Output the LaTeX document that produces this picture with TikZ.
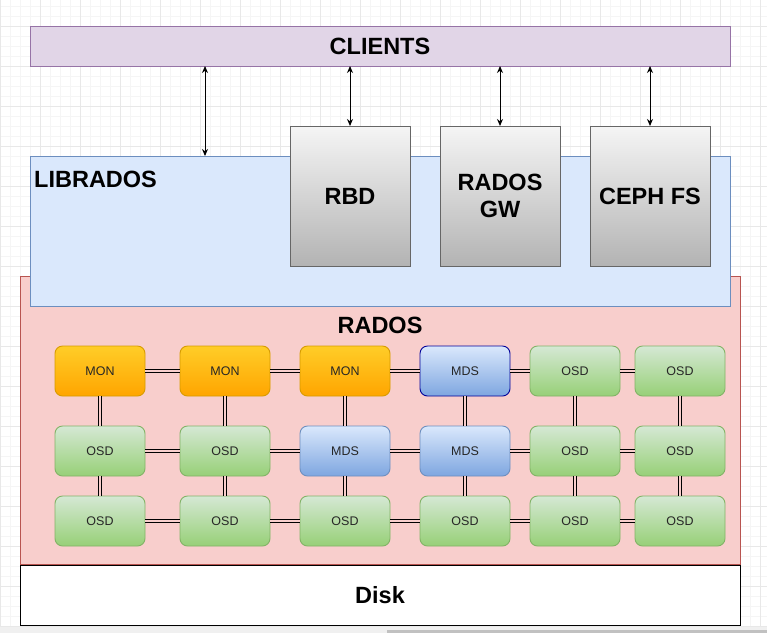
\documentclass[tikz,border=0pt]{standalone}
\usepackage{fontspec}
\setmainfont{Liberation Sans}
\usetikzlibrary{arrows.meta}
\definecolor{gridminor}{HTML}{F5F5F5}
\definecolor{gridmajor}{HTML}{E8E8E8}
\definecolor{clientfill}{HTML}{E1D5E7}
\definecolor{clientline}{HTML}{9673A6}
\definecolor{libfill}{HTML}{DAE8FC}
\definecolor{libline}{HTML}{6C8EBF}
\definecolor{radosfill}{HTML}{F8CECC}
\definecolor{radosline}{HTML}{B85450}
\definecolor{graytop}{HTML}{F5F5F5}
\definecolor{graybot}{HTML}{B3B3B3}
\definecolor{grayline}{HTML}{666666}
\definecolor{montop}{HTML}{FFCD28}
\definecolor{monbot}{HTML}{FFA500}
\definecolor{monline}{HTML}{D79B00}
\definecolor{osdtop}{HTML}{D5E8D4}
\definecolor{osdbot}{HTML}{97D077}
\definecolor{osdline}{HTML}{82B366}
\definecolor{mdstop}{HTML}{DAE8FC}
\definecolor{mdsbot}{HTML}{7EA6E0}
\definecolor{mdsline}{HTML}{6C8EBF}
\definecolor{mdsdark}{HTML}{000099}
\definecolor{scrolltrack}{HTML}{F0F0F0}
\definecolor{scrollthumb}{HTML}{C1C1C1}
\tikzset{
  panel/.style={inner sep=0pt, outer sep=0pt, line width=1pt},
  bigtxt/.style={font=\bfseries\fontsize{23.5}{25}\selectfont, text=black, inner sep=0pt, align=center},
  graybox/.style={panel, draw=grayline, top color=graytop, bottom color=graybot,
    minimum width=120pt, minimum height=140pt, font=\bfseries\fontsize{23.5}{27}\selectfont, align=center},
  cell/.style={rounded corners=7.5pt, minimum width=90pt, minimum height=50pt, inner sep=0pt,
    outer sep=0pt, line width=0.9pt, font=\fontsize{12.5}{14}\selectfont, text=black!85},
  mon/.style={cell, draw=monline, top color=montop, bottom color=monbot},
  osd/.style={cell, draw=osdline, top color=osdtop, bottom color=osdbot},
  mds/.style={cell, draw=mdsline, top color=mdstop, bottom color=mdsbot},
  link/.style={draw=black, line width=0.8pt, double=radosfill, double distance=2.4pt},
  biarrow/.style={{Stealth[length=7pt,width=6pt]}-{Stealth[length=7pt,width=6pt]}, line width=1pt}
}
\begin{document}
\begin{tikzpicture}[x=1pt,y=-1pt]
\useasboundingbox (0,0) rectangle (767,633);
\fill[white] (0,0) rectangle (767,633);
% background grid
\foreach \gx in {0,10,...,760} \draw[gridminor, line width=0.6pt] (\gx,0) -- (\gx,633);
\foreach \gy in {6,16,...,626} \draw[gridminor, line width=0.6pt] (0,\gy) -- (767,\gy);
\foreach \gx in {0,40,...,760} \draw[gridmajor, line width=0.8pt] (\gx,0) -- (\gx,633);
\foreach \gy in {26,66,...,626} \draw[gridmajor, line width=0.8pt] (0,\gy) -- (767,\gy);
% scroll bar
\fill[scrolltrack] (0,627) rectangle (767,633);
\fill[scrollthumb] (387,629.5) rectangle (767,633);

% RADOS and Disk
\node[panel, draw=radosline, fill=radosfill, minimum width=720pt, minimum height=288pt] (rados) at (380,420) {};
\node[panel, draw=black, fill=white, minimum width=720pt, minimum height=60pt,
  font=\bfseries\fontsize{23.5}{25}\selectfont] (disk) at (380,595) {Disk};
% LIBRADOS
\node[panel, draw=libline, fill=libfill, minimum width=700pt, minimum height=150pt] (librados) at (380,231) {};
\node[bigtxt, anchor=west] (liblbl) at (34,179) {LIBRADOS};
\node[bigtxt] (radoslbl) at (380,325) {RADOS};
% gray boxes
\node[graybox] (rbd) at (350,196) {RBD};
\node[graybox] (rgw) at (500,196) {RADOS\\GW};
\node[graybox] (cephfs) at (650,196) {CEPH FS};
% CLIENTS
\node[panel, draw=clientline, fill=clientfill, minimum width=700pt, minimum height=40pt,
  font=\bfseries\fontsize{23.5}{25}\selectfont] (clients) at (380,46) {CLIENTS};
% arrows
\coordinate (libtop) at ([xshift=175pt]librados.north west);
\draw[biarrow] (libtop |- clients.south) -- (libtop);
\draw[biarrow] (rbd.north |- clients.south) -- (rbd.north);
\draw[biarrow] (rgw.north |- clients.south) -- (rgw.north);
\draw[biarrow] (cephfs.north |- clients.south) -- (cephfs.north);

% cluster nodes
\node[mon] (n11) at (100,371) {MON};
\node[mon] (n12) at (225,371) {MON};
\node[mon] (n13) at (345,371) {MON};
\node[mds, draw=mdsdark] (n14) at (465,371) {MDS};
\node[osd] (n15) at (575,371) {OSD};
\node[osd] (n16) at (680,371) {OSD};
\node[osd] (n21) at (100,451) {OSD};
\node[osd] (n22) at (225,451) {OSD};
\node[mds] (n23) at (345,451) {MDS};
\node[mds] (n24) at (465,451) {MDS};
\node[osd] (n25) at (575,451) {OSD};
\node[osd] (n26) at (680,451) {OSD};
\node[osd] (n31) at (100,521) {OSD};
\node[osd] (n32) at (225,521) {OSD};
\node[osd] (n33) at (345,521) {OSD};
\node[osd] (n34) at (465,521) {OSD};
\node[osd] (n35) at (575,521) {OSD};
\node[osd] (n36) at (680,521) {OSD};
% links
\foreach \r in {1,2,3}{
  \foreach \a/\b in {1/2,2/3,3/4,4/5,5/6}{
    \draw[link] (n\r\a.east) -- (n\r\b.west);
  }
}
\foreach \c in {1,...,6}{
  \draw[link] (n1\c.south) -- (n2\c.north);
  \draw[link] (n2\c.south) -- (n3\c.north);
}
\end{tikzpicture}
\end{document}
